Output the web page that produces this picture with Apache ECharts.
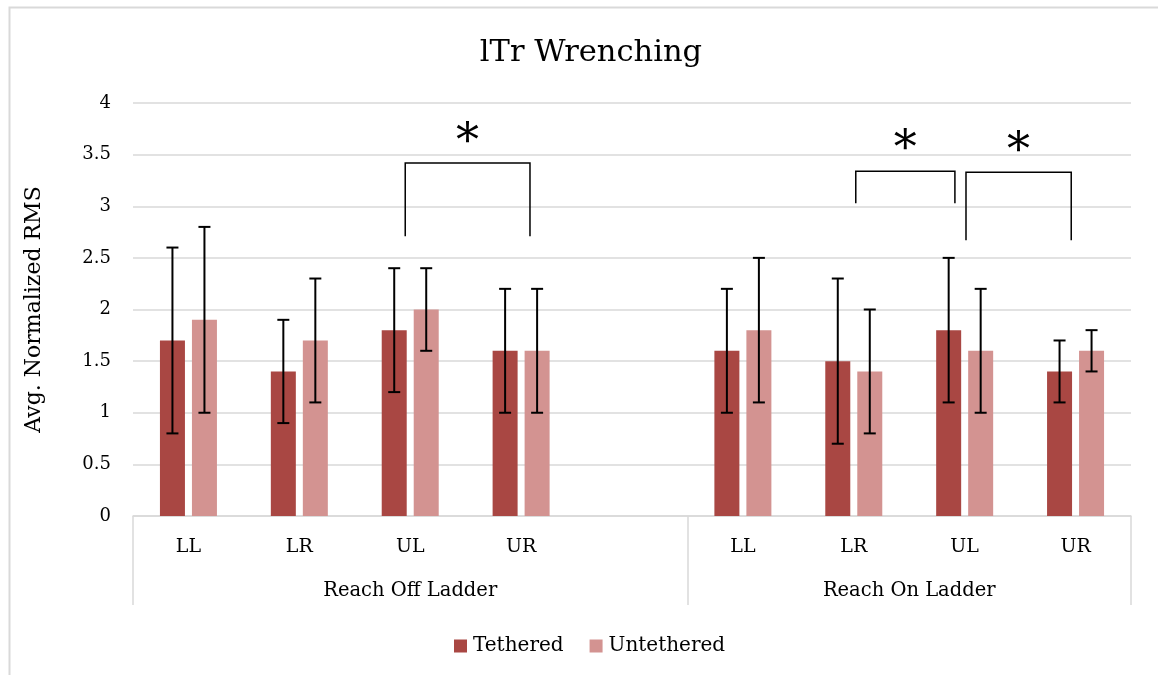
<!DOCTYPE html>
<html><head><meta charset="utf-8">
<script src="https://cdn.jsdelivr.net/npm/echarts@6/dist/echarts.min.js"></script>
<style>html,body{margin:0;padding:0;background:#fff}#c{width:1158px;height:675px}</style>
</head><body><div id="c"></div>
<script>
const categories = ["LL", "LR", "UL", "UR", "", "LL", "LR", "UL", "UR"];
const groupLabels = ["Reach Off Ladder", "Reach On Ladder"];
const groupCenters = [2.5, 7];
const groupBounds = [0, 5, 9];
const tethered = [1.7, 1.4, 1.8, 1.6, null, 1.6, 1.5, 1.8, 1.4];
const tetheredErr = [0.9, 0.5, 0.6, 0.6, null, 0.6, 0.8, 0.7, 0.3];
const untethered = [1.9, 1.7, 2.0, 1.6, null, 1.8, 1.4, 1.6, 1.6];
const untetheredErr = [0.9, 0.6, 0.4, 0.6, null, 0.7, 0.6, 0.6, 0.2];
// significance brackets: [left (category units), right, top y, left leg end y, right leg end y, star y]
const brackets = [
  [1.955, 3.08, 3.42, 2.71, 2.71, 3.69],
  [6.018, 6.912, 3.34, 3.03, 3.03, 3.625],
  [7.012, 7.961, 3.33, 2.67, 2.67, 3.60]
];

const FONT = '"DejaVu Serif", serif';
const C1 = '#A94743', C2 = '#D39391';
const BAR_W = 25, BAR_OFF = 16, STAR_SHIFT = 9;

function errData(vals, errs) {
  const out = [];
  vals.forEach((v, i) => { if (v != null) out.push([i, v, errs[i]]); });
  return out;
}
function errSeries(name, vals, errs, dir) {
  return {
    type: 'custom', name: name + ' err', z: 5, silent: true,
    data: errData(vals, errs),
    encode: { x: 0, y: 1 },
    renderItem: function (params, api) {
      const i = api.value(0), v = api.value(1), e = api.value(2);
      const top = api.coord([i, v + e]);
      const bot = api.coord([i, v - e]);
      const x = top[0] + dir * BAR_OFF;
      const st = { stroke: '#000', lineWidth: 2 };
      return { type: 'group', children: [
        { type: 'line', shape: { x1: x, y1: top[1], x2: x, y2: bot[1] }, style: st },
        { type: 'line', shape: { x1: x - 6, y1: top[1], x2: x + 6, y2: top[1] }, style: st },
        { type: 'line', shape: { x1: x - 6, y1: bot[1], x2: x + 6, y2: bot[1] }, style: st }
      ] };
    }
  };
}

const chart = echarts.init(document.getElementById('c'));
chart.setOption({
  animation: false,
  backgroundColor: '#fff',
  title: { text: 'lTr Wrenching', left: 586, top: 33, textAlign: 'center',
    textStyle: { fontFamily: FONT, fontSize: 30.5, fontWeight: 'normal', color: '#000' } },
  legend: { data: ['Tethered', 'Untethered'], left: 449, top: 631, itemWidth: 13, itemHeight: 13,
    itemGap: 26, icon: 'rect',
    textStyle: { fontFamily: FONT, fontSize: 20, color: '#000', padding: [0, 0, 0, 1] } },
  graphic: [{ type: 'rect', left: 7, top: 5, shape: { width: 1170, height: 700 },
    style: { fill: 'none', stroke: '#d9d9d9', lineWidth: 2 }, silent: true }],
  grid: { left: 133, right: 27, top: 103, bottom: 159 },
  xAxis: [
    { type: 'category', data: categories, position: 'bottom',
      axisLine: { lineStyle: { color: '#d9d9d9', width: 1.5 } }, axisTick: { show: false },
      axisLabel: { margin: 22, fontFamily: FONT, fontSize: 19, color: '#000', interval: 0 } },
    { type: 'value', position: 'bottom', min: 0, max: 9,
      axisLine: { show: false }, splitLine: { show: false },
      axisTick: { show: true, customValues: groupBounds, length: 89, lineStyle: { color: '#d9d9d9', width: 1.5 } },
      axisLabel: { customValues: groupCenters, margin: 65, fontFamily: FONT, fontSize: 19.5, color: '#000',
        formatter: v => { const k = groupCenters.indexOf(v); return k >= 0 ? groupLabels[k] : ''; } } }
  ],
  yAxis: { type: 'value', min: 0, max: 4, interval: 0.5,
    name: 'Avg. Normalized RMS', nameLocation: 'middle', nameGap: 88,
    nameTextStyle: { fontFamily: FONT, fontSize: 22, color: '#000' },
    axisLine: { show: false }, axisTick: { show: false },
    splitLine: { lineStyle: { color: '#d9d9d9', width: 1.5 } },
    axisLabel: { margin: 22, fontFamily: FONT, fontSize: 18, color: '#000' } },
  series: [
    { type: 'bar', name: 'Tethered', data: tethered, barWidth: BAR_W, barGap: '28%',
      itemStyle: { color: C1 } },
    { type: 'bar', name: 'Untethered', data: untethered, barWidth: BAR_W, barGap: '28%',
      itemStyle: { color: C2 } },
    errSeries('Tethered', tethered, tetheredErr, -1),
    errSeries('Untethered', untethered, untetheredErr, 1),
    { type: 'custom', name: 'sig', z: 6, silent: true,
      data: brackets, encode: { x: 0, y: 2 },
      renderItem: function (params, api) {
        const l = api.value(0), r = api.value(1), t = api.value(2), yl = api.value(3), yr = api.value(4), ys = api.value(5);
        const band = api.size([1, 0])[0];
        const c0 = api.coord([0, t])[0];
        const xl = c0 + l * band, xr = c0 + r * band;
        const yT = api.coord([0, t])[1], yL = api.coord([0, yl])[1], yR = api.coord([0, yr])[1], yS = api.coord([0, ys])[1];
        return { type: 'group', children: [
          { type: 'polyline', shape: { points: [[xl, yL], [xl, yT], [xr, yT], [xr, yR]] },
            style: { stroke: '#000', lineWidth: 1.5, fill: 'none' } },
          { type: 'text', style: { text: '*', x: (xl + xr) / 2, y: yS + STAR_SHIFT, align: 'center', verticalAlign: 'middle',
            font: '46px ' + FONT, fill: '#000' } }
        ] };
      } }
  ]
});
</script></body></html>
